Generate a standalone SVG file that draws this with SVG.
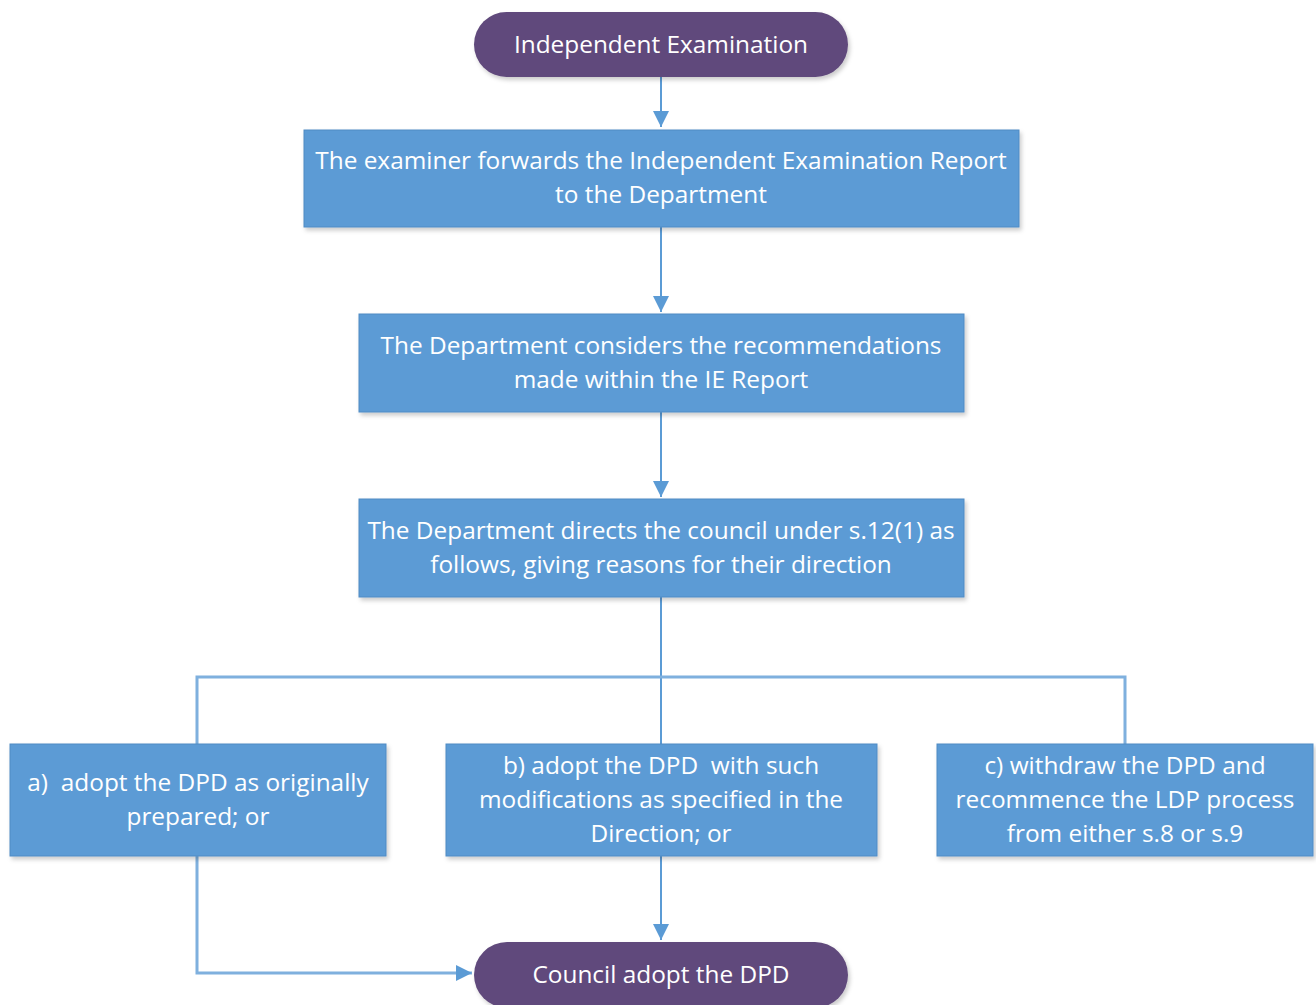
<svg xmlns="http://www.w3.org/2000/svg" width="1316" height="1005" viewBox="0 0 1316 1005">
<defs>
<style>
.t{font-family:"Open Sans","Liberation Sans",sans-serif;font-size:24.4px;fill:#ffffff;text-anchor:middle;white-space:pre}
.box{fill:#5B9BD5;stroke:#4F8BC4;stroke-width:1}
.pill{fill:#604A7B}
.arr{stroke:#5B9BD5;stroke-width:2;fill:none}
.br{stroke:#7FB0DE;stroke-width:3;fill:none}
</style>
<marker id="ah2" viewBox="0 0 10 10" refX="10" refY="5" markerWidth="16" markerHeight="16" markerUnits="userSpaceOnUse" orient="auto"><path d="M0,0 L10,5 L0,10 z" fill="#5B9BD5"/></marker>
<filter id="sh" x="-5%" y="-10%" width="110%" height="130%"><feDropShadow dx="2" dy="3" stdDeviation="2" flood-color="#000" flood-opacity="0.2"/></filter>
</defs>
<rect width="1316" height="1005" fill="#ffffff"/>
<g id="connectors">
<line class="arr" x1="661" y1="77" x2="661" y2="127" marker-end="url(#ah2)"/>
<line class="arr" x1="661" y1="227" x2="661" y2="312" marker-end="url(#ah2)"/>
<line class="arr" x1="661" y1="412" x2="661" y2="497" marker-end="url(#ah2)"/>
<line class="arr" x1="661" y1="597" x2="661" y2="744"/>
<polyline class="br" points="197,744 197,677 1125,677 1125,744"/>
<line class="arr" x1="661" y1="856" x2="661" y2="940" marker-end="url(#ah2)"/>
<polyline class="br" points="197,856 197,973 472,973" marker-end="url(#ah2)"/>
</g>
<g id="n1"><rect class="pill" x="474" y="12" width="374" height="65" rx="32.5" filter="url(#sh)"/><text class="t" x="661" y="53">Independent Examination</text></g>
<g id="n2"><rect class="box" x="304" y="130" width="715" height="97" filter="url(#sh)"/><text class="t" x="661" y="169">The examiner forwards the Independent Examination Report</text><text class="t" x="661" y="203">to the Department</text></g>
<g id="n3"><rect class="box" x="359" y="314" width="605" height="98" filter="url(#sh)"/><text class="t" x="661" y="354">The Department considers the recommendations</text><text class="t" x="661" y="388">made within the IE Report</text></g>
<g id="n4"><rect class="box" x="359" y="499" width="605" height="98" filter="url(#sh)"/><text class="t" x="661" y="539">The Department directs the council under s.12(1) as</text><text class="t" x="661" y="573">follows, giving reasons for their direction</text></g>
<g id="n5"><rect class="box" x="10" y="744" width="376" height="112" filter="url(#sh)"/><text class="t" x="198" y="791">a)  adopt the DPD as originally</text><text class="t" x="198" y="825">prepared; or</text></g>
<g id="n6"><rect class="box" x="446" y="744" width="431" height="112" filter="url(#sh)"/><text class="t" x="661" y="774">b) adopt the DPD  with such</text><text class="t" x="661" y="808">modifications as specified in the</text><text class="t" x="661" y="842">Direction; or</text></g>
<g id="n7"><rect class="box" x="937" y="744" width="376" height="112" filter="url(#sh)"/><text class="t" x="1125" y="774">c) withdraw the DPD and</text><text class="t" x="1125" y="808">recommence the LDP process</text><text class="t" x="1125" y="842">from either s.8 or s.9</text></g>
<g id="n8"><rect class="pill" x="474" y="942" width="374" height="66" rx="33" filter="url(#sh)"/><text class="t" x="661" y="983">Council adopt the DPD</text></g>
</svg>
